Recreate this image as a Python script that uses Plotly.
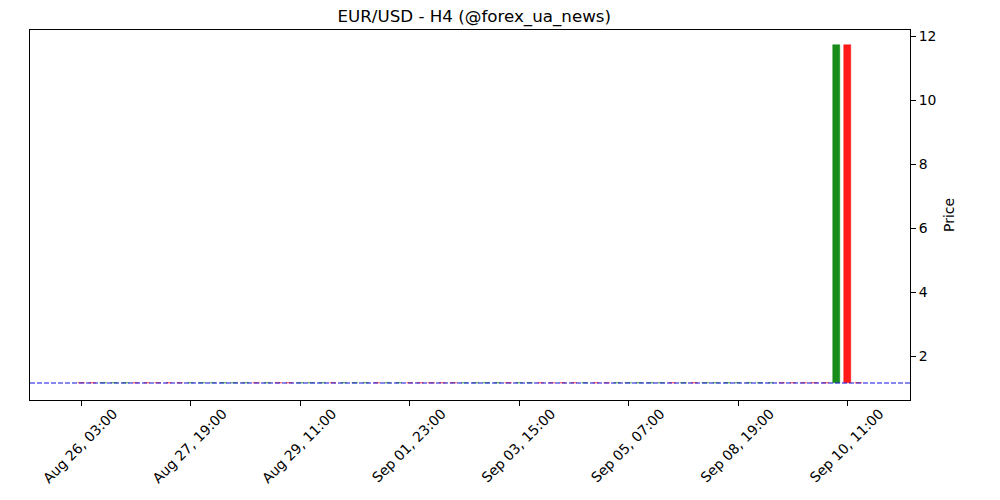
import plotly.graph_objects as go

# H4 candle timestamps (weekends skipped), grouped by trading day
day_labels = ["Aug 26", "Aug 27", "Aug 28", "Aug 29", "Aug 31", "Sep 01", "Sep 02",
              "Sep 03", "Sep 04", "Sep 05", "Sep 07", "Sep 08", "Sep 09", "Sep 10"]
day_hours = [["03:00", "07:00", "11:00", "15:00", "19:00", "23:00"],
             ["03:00", "07:00", "11:00", "15:00", "19:00", "23:00"],
             ["03:00", "07:00", "11:00", "15:00", "19:00", "23:00"],
             ["03:00", "07:00", "11:00", "15:00", "19:00", "23:00"],
             ["23:00"],
             ["03:00", "07:00", "11:00", "15:00", "19:00", "23:00"],
             ["03:00", "07:00", "11:00", "15:00", "19:00", "23:00"],
             ["03:00", "07:00", "11:00", "15:00", "19:00", "23:00"],
             ["03:00", "07:00", "11:00", "15:00", "19:00", "23:00"],
             ["03:00", "07:00", "11:00", "15:00", "19:00", "23:00"],
             ["23:00"],
             ["03:00", "07:00", "11:00", "15:00", "19:00", "23:00"],
             ["03:00", "07:00", "11:00", "15:00", "19:00", "23:00"],
             ["03:00", "07:00", "11:00", "15:00"]]

opens = [1.1630, 1.1625, 1.1618, 1.1630, 1.1641, 1.1652, 1.1648, 1.1639, 1.1622, 1.1608,
         1.1597, 1.1612, 1.1640, 1.1655, 1.1662, 1.1671, 1.1683, 1.1679, 1.1685, 1.1676,
         1.1669, 1.1681, 1.1692, 1.1705, 1.1700, 1.1704, 1.1712, 1.1718, 1.1709, 1.1716,
         1.1721, 1.1714, 1.1702, 1.1676, 1.1649, 1.1630, 1.1641, 1.1643, 1.1652, 1.1661,
         1.1648, 1.1657, 1.1663, 1.1660, 1.1655, 1.1647, 1.1640, 1.1652, 1.1648, 1.1646,
         1.1651, 1.1658, 1.1669, 1.1714, 1.1735, 1.1717, 1.1722, 1.1719, 1.1730, 1.1741,
         1.1752, 1.1760, 1.1762, 1.1768, 1.1772, 1.1755, 1.1731, 1.1712, 1.1707, 1.1702,
         11.72, 1.1712]
closes = [1.1625, 1.1618, 1.1630, 1.1641, 1.1652, 1.1648, 1.1639, 1.1622, 1.1608, 1.1597,
          1.1612, 1.1640, 1.1655, 1.1662, 1.1671, 1.1683, 1.1679, 1.1685, 1.1676, 1.1669,
          1.1681, 1.1692, 1.1705, 1.1700, 1.1704, 1.1712, 1.1718, 1.1709, 1.1716, 1.1721,
          1.1714, 1.1702, 1.1676, 1.1649, 1.1630, 1.1641, 1.1643, 1.1652, 1.1661, 1.1648,
          1.1657, 1.1663, 1.1660, 1.1655, 1.1647, 1.1640, 1.1652, 1.1648, 1.1646, 1.1651,
          1.1658, 1.1669, 1.1714, 1.1735, 1.1717, 1.1722, 1.1719, 1.1730, 1.1741, 1.1752,
          1.1760, 1.1762, 1.1768, 1.1772, 1.1755, 1.1731, 1.1712, 1.1707, 1.1702, 11.72,
          1.1712, 1.1705]

y_ticks = [2, 4, 6, 8, 10, 12]
title_text = "EUR/USD - H4 (@forex_ua_news)"
y_label = "Price"

times = []
for d, hrs in zip(day_labels, day_hours):
    for h in hrs:
        times.append(f"{d}, {h}")
idx = list(range(len(closes)))
x_tick_idx = list(range(0, len(closes), 10))
x_tick_text = [times[i] for i in x_tick_idx]

colors = ["rgba(0,128,0,0.9)" if c >= o else "rgba(255,0,0,0.9)" for o, c in zip(opens, closes)]

FONT = "DejaVu Sans"
FS = 13.9
W, H = 992, 492  # page body has an 8px margin
fig = go.Figure()
fig.add_trace(go.Bar(
    x=idx, base=opens, y=[c - o for o, c in zip(opens, closes)],
    width=0.6, marker=dict(color=colors, line=dict(color=colors, width=0.5)),
    customdata=times, showlegend=False,
))
fig.add_hline(y=closes[-1], line=dict(color="#1010e0", width=1.2, dash="5px,2px"), layer="above")

fig.update_layout(
    width=W, height=H,
    margin=dict(l=22, r=90, t=22, b=100, autoexpand=False),
    paper_bgcolor="white", plot_bgcolor="white",
    font=dict(family=FONT, size=FS, color="black"),
    title=dict(text=title_text, x=0.47, xanchor="center", y=1 - 2.5 / H, yanchor="top",
               pad=dict(t=0, b=0),
               font=dict(family=FONT, size=16.7, color="black")),
    bargap=0,
    xaxis=dict(range=[-4.7, 75.7], tickmode="array", tickvals=x_tick_idx, ticktext=x_tick_text,
               tickangle=-45, ticks="outside", ticklen=5, tickcolor="black",
               showline=True, linecolor="black", linewidth=1, mirror=True,
               showgrid=False, zeroline=False, ticklabelshift=32, ticklabelstandoff=-6,
               tickfont=dict(family=FONT, size=FS, color="black")),
    yaxis=dict(range=[0.64, 12.2], side="right", tickmode="array", tickvals=y_ticks,
               ticks="outside", ticklen=5, tickcolor="black",
               showline=True, linecolor="black", linewidth=1, mirror=True,
               showgrid=False, zeroline=False,
               tickfont=dict(family=FONT, size=FS, color="black"),
               title=dict(text=y_label, standoff=8, font=dict(family=FONT, size=FS, color="black"))),
)

fig.write_html("out.html")
